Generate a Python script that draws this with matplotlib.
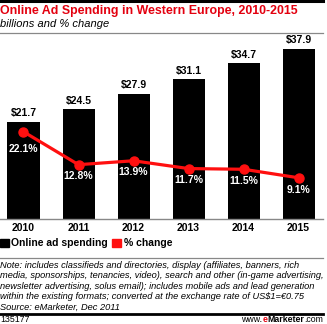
import matplotlib
matplotlib.use("Agg")
import matplotlib.pyplot as plt
from matplotlib.lines import Line2D
from matplotlib.patches import Rectangle

years = ["2010", "2011", "2012", "2013", "2014", "2015"]
spending = [21.7, 24.5, 27.9, 31.1, 34.7, 37.9]
pct_change = [22.1, 12.8, 13.9, 11.7, 11.5, 9.1]
spend_labels = ["$21.7", "$24.5", "$27.9", "$31.1", "$34.7", "$37.9"]
pct_labels = ["22.1%", "12.8%", "13.9%", "11.7%", "11.5%", "9.1%"]

W, H = 327, 324
plt.rcParams['font.family'] = ['Liberation Sans', 'DejaVu Sans']
fig = plt.figure(figsize=(W / 100, H / 100), dpi=100)
fig.patch.set_facecolor("white")

def fx(px):
    return px / W

def fy(py):
    return 1 - py / H

RED = "#E3000F"
LRED = "#FF1010"

# axes region in pixels
ax_left, ax_right, ax_top, ax_bottom = 0, 323, 40, 219
ax = fig.add_axes([fx(ax_left), fy(ax_bottom), fx(ax_right - ax_left), (ax_bottom - ax_top) / H])
x = list(range(len(years)))
ax.bar(x, spending, width=32 / 55, color="black", zorder=2)
ax.set_xlim((ax_left - 23.5) / 55, (ax_right - 23.5) / 55)
ax.set_ylim(0, (ax_bottom - ax_top) / 4.49)
for s in ["top", "right", "left"]:
    ax.spines[s].set_visible(False)
ax.spines["bottom"].set_color("#888888")
ax.spines["bottom"].set_linewidth(1.0)
ax.set_yticks([])
ax.set_xticks(x)
ax.set_xticklabels(years, fontsize=7.5, fontweight="bold")
ax.tick_params(axis="x", length=0, pad=3)
ax.patch.set_alpha(0)
for xi, v, lab in zip(x, spending, spend_labels):
    ax.annotate(lab, (xi, v), xytext=(0, 2.5), textcoords="offset points",
                ha="center", va="bottom", fontsize=7.5, fontweight="bold")

ax2 = ax.twinx()
ax2.set_ylim(-2.54, 48.0)
ax2.axis("off")
ax2.plot(x, pct_change, color=LRED, lw=2.3, marker="o", markersize=6.5, zorder=3)
offsets = [-12.5, -8, -8, -8.5, -8.5, -8.5]
for xi, v, lab, off in zip(x, pct_change, pct_labels, offsets):
    ax2.annotate(lab, (xi, v), xytext=(0, off), textcoords="offset points",
                 ha="center", va="center", fontsize=7.5, fontweight="bold", color="white")

# header
fig.add_artist(Line2D([fx(0), fx(323)], [fy(1), fy(1)], color="black", lw=2.2))
fig.text(fx(0), fy(11), "Online Ad Spending in Western Europe, 2010-2015", color=RED,
         fontsize=8.9, fontweight="bold", va="center", ha="left")
fig.text(fx(0), fy(24), "billions and % change", fontsize=8, style="italic", va="center", ha="left")
fig.add_artist(Line2D([fx(0), fx(323)], [fy(33), fy(33)], color="#888888", lw=0.9))

# legend
fig.add_artist(Rectangle((fx(0), fy(247)), fx(9), 8 / H, color="black"))
fig.text(fx(11), fy(243), "Online ad spending", fontsize=7.5, fontweight="bold", va="center", ha="left")
fig.add_artist(Rectangle((fx(112), fy(247)), fx(9), 8 / H, color=LRED))
fig.text(fx(124), fy(243), "% change", fontsize=7.5, fontweight="bold", va="center", ha="left")

fig.add_artist(Line2D([fx(0), fx(323)], [fy(258), fy(258)], color="#888888", lw=0.9))

note_lines = [
    "Note: includes classifieds and directories, display (affiliates, banners, rich",
    "media, sponsorships, tenancies, video), search and other (in-game advertising,",
    "newsletter advertising, solus email); includes mobile ads and lead generation",
    "within the existing formats; converted at the exchange rate of US$1=\u20ac0.75",
    "Source: eMarketer, Dec 2011",
]
for i, line in enumerate(note_lines):
    fig.text(fx(0), fy(265 + 10.6 * i), line, fontsize=6.7, style="italic", va="center", ha="left")

fig.add_artist(Line2D([fx(0), fx(323)], [fy(314), fy(314)], color="black", lw=2.0))
fig.text(fx(0), fy(320), "135177", fontsize=6.3, va="center", ha="left")
t3 = fig.text(fx(323), fy(320), ".com", fontsize=6.3, va="center", ha="right")
fig.canvas.draw()
r = fig.canvas.get_renderer()
bb = t3.get_window_extent(r)
x_end = bb.x0 / fig.dpi / fig.get_figwidth()
t2 = fig.text(x_end, fy(320), "Marketer", fontsize=6.3, fontweight="bold", va="center", ha="right")
bb = t2.get_window_extent(r)
x_end = bb.x0 / fig.dpi / fig.get_figwidth()
t1 = fig.text(x_end, fy(320), "e", fontsize=6.3, fontweight="bold", color=RED, va="center", ha="right")
bb = t1.get_window_extent(r)
x_end = bb.x0 / fig.dpi / fig.get_figwidth()
fig.text(x_end, fy(320), "www.", fontsize=6.3, va="center", ha="right")

fig.savefig("out.png", dpi=100)
